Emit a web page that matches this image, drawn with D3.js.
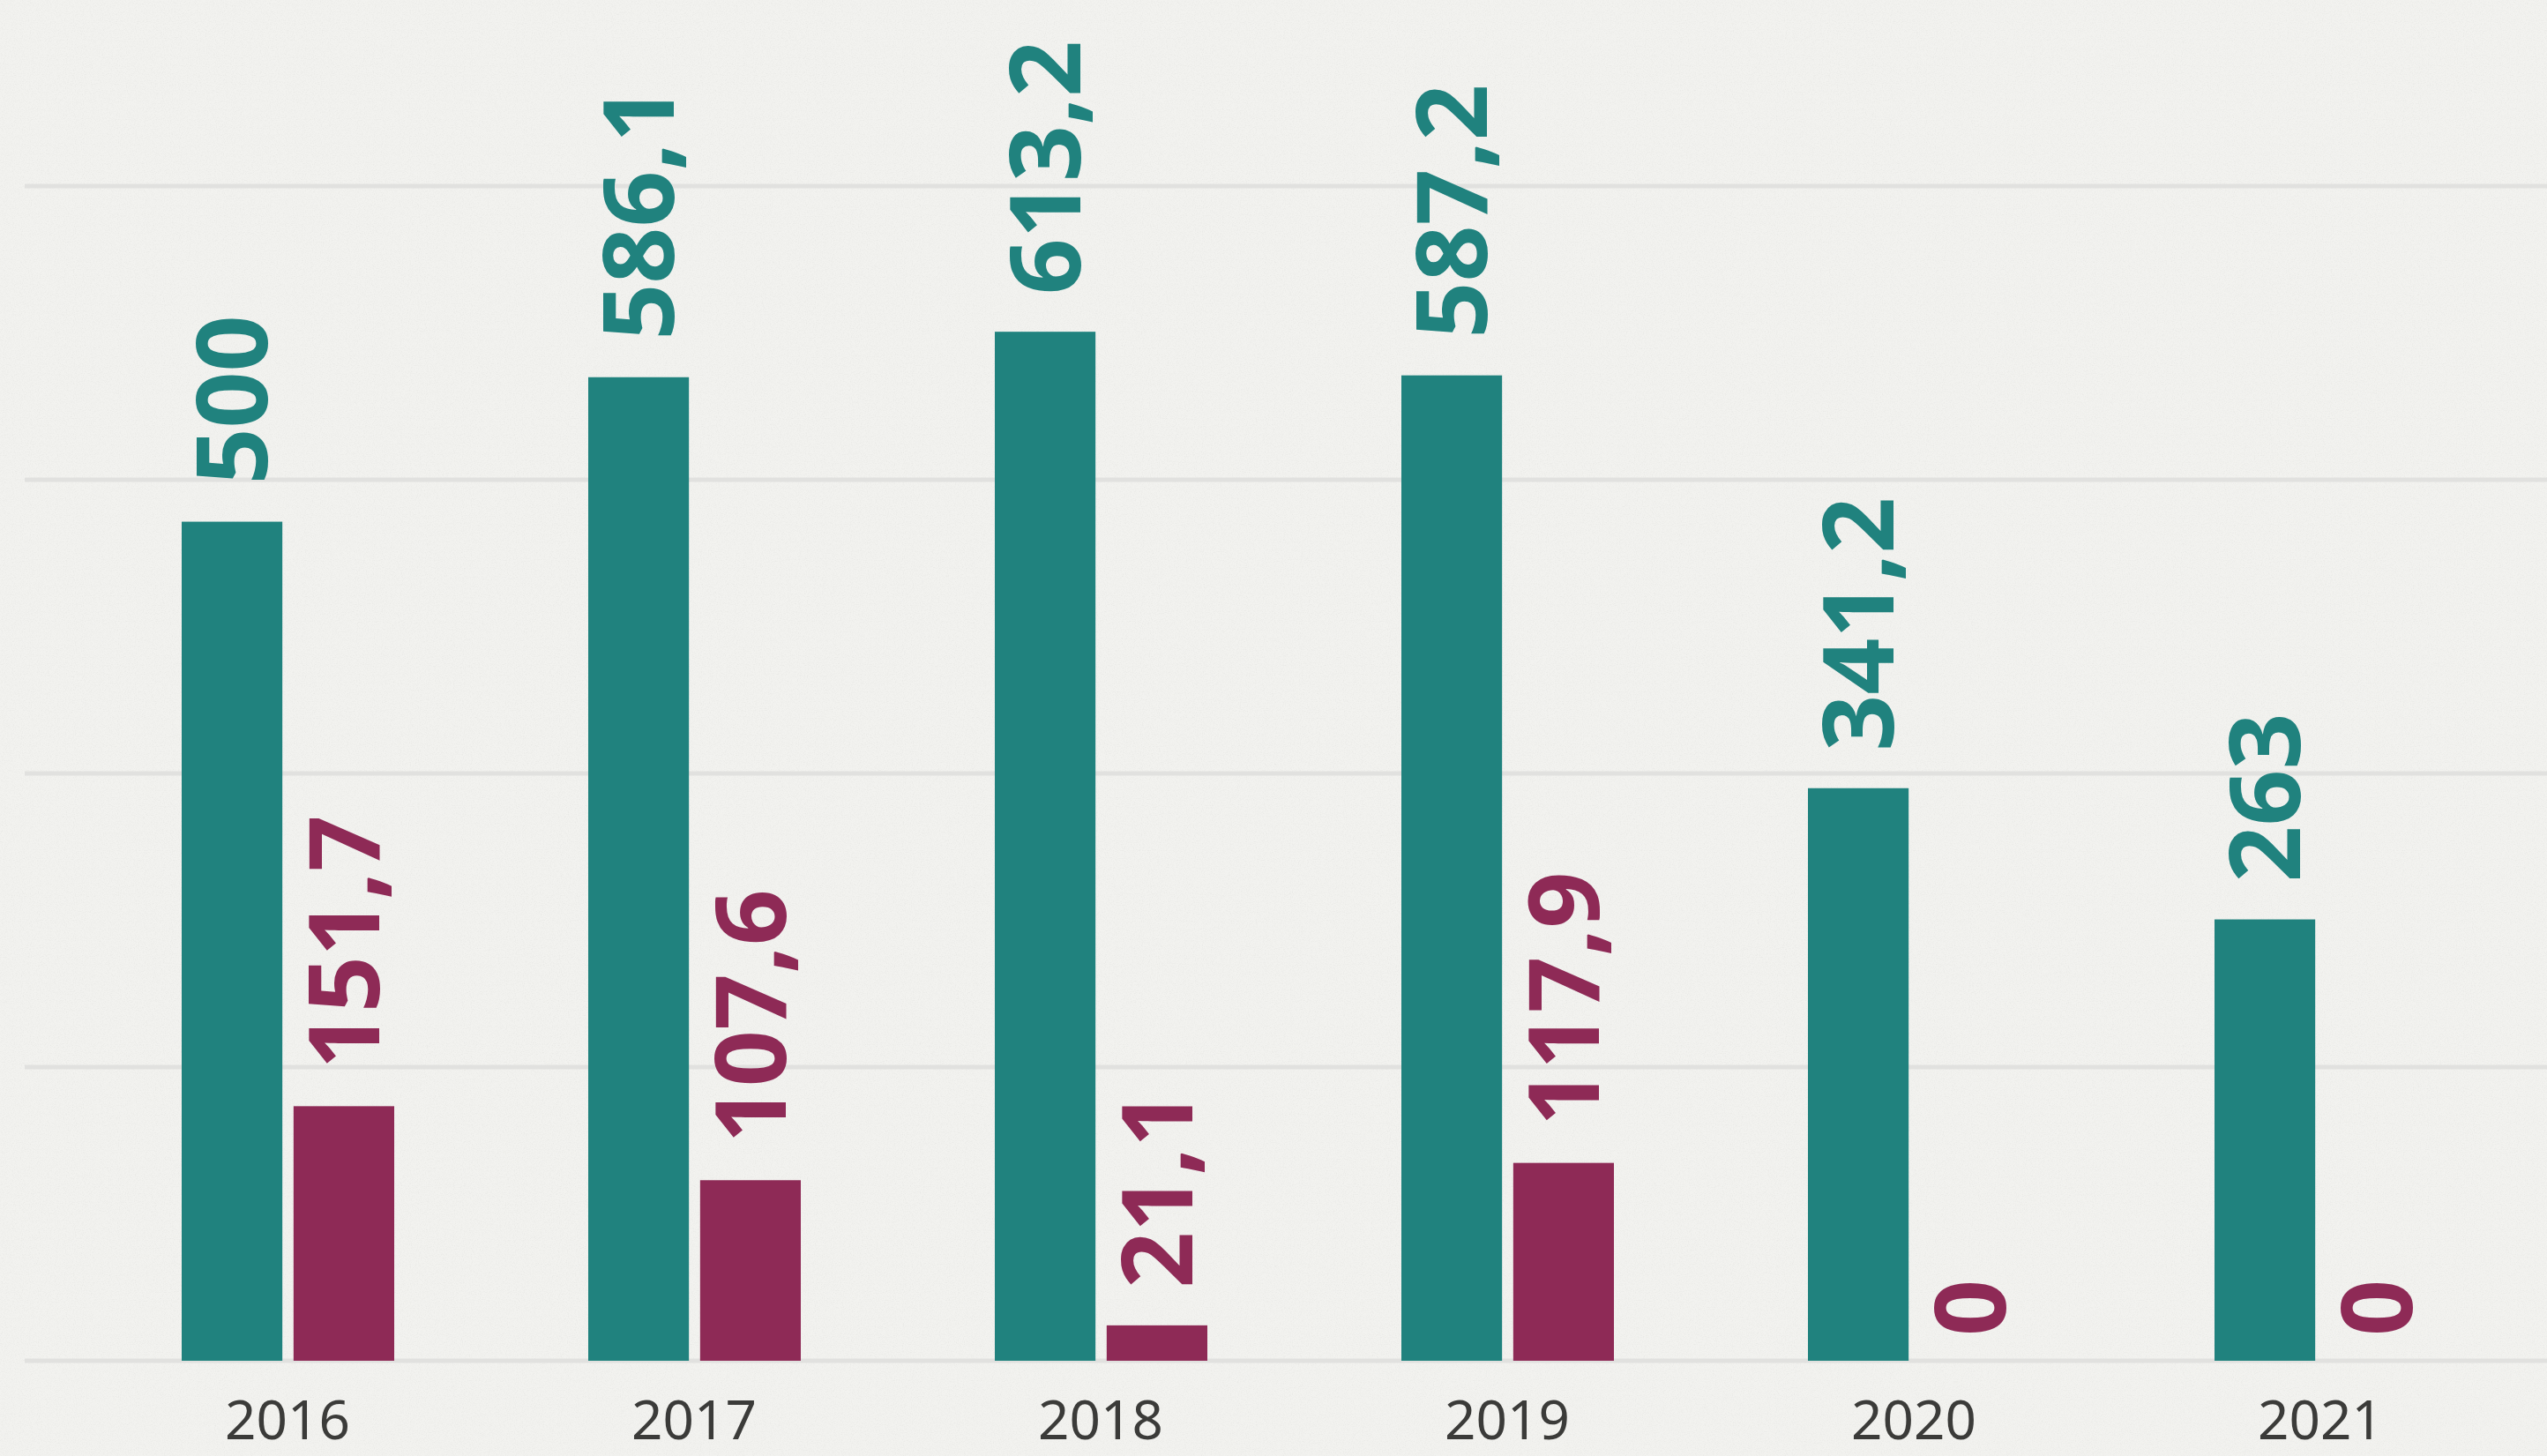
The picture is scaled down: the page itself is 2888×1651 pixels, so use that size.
<!DOCTYPE html>
<html>
<head>
<meta charset="utf-8">
<script src="https://cdn.jsdelivr.net/npm/d3@7"></script>
<style>
  html, body { margin: 0; padding: 0; background: #f1f1ee; overflow: hidden; }
  svg { display: block; }
</style>
</head>
<body>
<div id="chart"></div>
<script>
var years = ["2016", "2017", "2018", "2019", "2020", "2021"];
var seriesKeys = ["teal", "wine"];
var tealValues = [500, 586.1, 613.2, 587.2, 341.2, 263];
var wineValues = [151.7, 107.6, 21.1, 117.9, 0, 0];
var gridValues = [0, 175, 350, 525, 700];

var colors = { teal: "#20827e", wine: "#8e2a56" };

var width = 2888, height = 1651;
var baseline = 1543;

var svg = d3.select("#chart").append("svg")
  .attr("width", width)
  .attr("height", height);

// paper texture
var defs = svg.append("defs");
var noise = defs.append("filter").attr("id", "paper")
  .attr("x", 0).attr("y", 0).attr("width", "100%").attr("height", "100%");
noise.append("feTurbulence")
  .attr("type", "fractalNoise").attr("baseFrequency", 0.9)
  .attr("numOctaves", 2).attr("seed", 7).attr("result", "n");
noise.append("feColorMatrix")
  .attr("in", "n").attr("type", "matrix")
  .attr("values", "0 0 0 0 0.45  0 0 0 0 0.45  0 0 0 0 0.43  0 0 0 -2.6 1.4");

svg.append("rect")
  .attr("width", width).attr("height", height)
  .attr("fill", "#f2f2ef");
svg.append("rect")
  .attr("width", width).attr("height", height)
  .attr("filter", "url(#paper)")
  .attr("opacity", 0.12);

var x = d3.scaleBand()
  .domain(years)
  .range([206, 206 + 461 * years.length]);

var x1 = d3.scaleBand()
  .domain(seriesKeys)
  .range([0, 241])
  .paddingInner(0.1);

var y = d3.scaleLinear()
  .domain([0, 700])
  .range([baseline, 211]);

// gridlines
svg.append("g")
  .selectAll("line")
  .data(gridValues)
  .enter().append("line")
  .attr("x1", 28)
  .attr("x2", width)
  .attr("y1", function (d) { return y(d); })
  .attr("y2", function (d) { return y(d); })
  .style("stroke", "#e1e1df")
  .style("stroke-width", 5);

var rows = [];
years.forEach(function (year, i) {
  rows.push({ year: year, key: "teal", value: tealValues[i] });
  rows.push({ year: year, key: "wine", value: wineValues[i] });
});

// bars
svg.append("g")
  .selectAll("rect")
  .data(rows)
  .enter().append("rect")
  .attr("x", function (d) { return x(d.year) + x1(d.key); })
  .attr("y", function (d) { return y(d.value); })
  .attr("width", x1.bandwidth())
  .attr("height", function (d) { return baseline - y(d.value); })
  .style("fill", function (d) { return colors[d.key]; });

// value labels
var fmt = function (v) { return String(v).replace(".", ","); };

svg.append("g")
  .selectAll("text")
  .data(rows)
  .enter().append("text")
  .attr("transform", function (d) {
    var cx = x(d.year) + x1(d.key) + x1.bandwidth() / 2;
    var cy = y(d.value) - (d.value === 0 ? 28 : 42);
    return "translate(" + cx + "," + cy + ") rotate(-90)";
  })
  .attr("text-anchor", "start")
  .attr("dy", "0.36em")
  .style("font-family", "'Noto Sans', sans-serif")
  .style("font-weight", 700)
  .style("font-size", "112px")
  .style("fill", function (d) { return colors[d.key]; })
  .text(function (d) { return fmt(d.value); });

// year labels
svg.append("g")
  .selectAll("text")
  .data(years)
  .enter().append("text")
  .attr("x", function (d) { return x(d) + 120; })
  .attr("y", 1632)
  .attr("text-anchor", "middle")
  .style("font-family", "'Noto Sans', sans-serif")
  .style("font-weight", 400)
  .style("font-size", "62px")
  .style("fill", "#3b3b39")
  .text(function (d) { return d; });
</script>
</body>
</html>
